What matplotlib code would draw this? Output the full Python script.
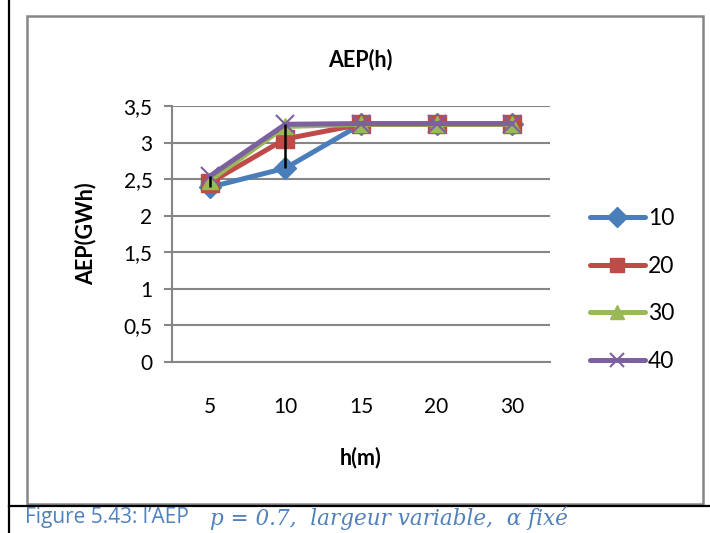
import matplotlib
matplotlib.use("Agg")
import matplotlib.pyplot as plt
from matplotlib.lines import Line2D
from matplotlib.patches import Rectangle
import numpy as np

categories = ["5", "10", "15", "20", "30"]
series_names = ["10", "20", "30", "40"]
aep_10 = [2.39, 2.65, 3.25, 3.25, 3.25]
aep_20 = [2.45, 3.05, 3.25, 3.25, 3.25]
aep_30 = [2.48, 3.22, 3.25, 3.25, 3.25]
aep_40 = [2.54, 3.25, 3.26, 3.26, 3.26]
y_ticks = [0, 0.5, 1, 1.5, 2, 2.5, 3, 3.5]
y_tick_labels = ["0", "0,5", "1", "1,5", "2", "2,5", "3", "3,5"]

colors = ["#4A7EBB", "#BE4B48", "#98B954", "#7D60A0"]
markers = ["D", "s", "^", "x"]
msizes = [11, 13, 12, 13]

plt.rcParams["font.family"] = ["Lato", "DejaVu Sans"]

fig = plt.figure(figsize=(7.10, 5.33), dpi=100)

# page rules and chart frame
fig.add_artist(Line2D([9 / 710, 9 / 710], [0, 1], color="black", lw=1.6,
                      transform=fig.transFigure))
fig.add_artist(Line2D([9 / 710, 1], [1 - 506 / 533, 1 - 506 / 533], color="black",
                      lw=1.6, transform=fig.transFigure))
fig.add_artist(Rectangle((27 / 710, 1 - 504 / 533), (703 - 27) / 710, (504 - 16) / 533,
                         fill=False, edgecolor="#868686", lw=1.8,
                         transform=fig.transFigure))

ax = fig.add_axes([172 / 710, 1 - 362 / 533, (550 - 172) / 710, (362 - 106) / 533])
x = np.arange(len(categories))
all_series = [aep_10, aep_20, aep_30, aep_40]
for vals, name, c, m, ms in zip(all_series, series_names, colors, markers, msizes):
    kw = dict(markeredgewidth=1.5) if m == "x" else dict(markeredgecolor=c)
    ax.plot(x, vals, color=c, lw=3.6, marker=m, markersize=ms, label=name,
            markerfacecolor=c, solid_capstyle="round", clip_on=False, **kw)

# high-low lines across series
arr = np.array(all_series)
ax.vlines(x, arr.min(axis=0), arr.max(axis=0), color="black", lw=1.8, zorder=10)

ax.set_xlim(-0.5, len(categories) - 0.5)
ax.set_ylim(0, 3.5)
ax.set_xticks(x)
ax.set_xticklabels(categories, fontsize=15)
ax.set_yticks(y_ticks)
ax.set_yticklabels(y_tick_labels, fontsize=15)
ax.tick_params(axis="x", length=0, pad=25)
ax.tick_params(axis="y", length=6, width=1.5, color="#868686", pad=8)
ax.grid(axis="y", color="#868686", lw=1.5)
ax.set_axisbelow(True)
for s in ["top", "right"]:
    ax.spines[s].set_visible(False)
for s in ["left", "bottom"]:
    ax.spines[s].set_color("#868686")
    ax.spines[s].set_linewidth(1.5)

fig.text(360 / 710, 1 - 60 / 533, "AEP(h)", ha="center", va="center",
         fontsize=15.5, fontweight="bold")
fig.text(86 / 710, 1 - 234 / 533, "AEP(GWh)", ha="center", va="center",
         rotation=90, fontsize=15.5, fontweight="bold")
fig.text(361 / 710, 1 - 458 / 533, "h(m)", ha="center", va="center",
         fontsize=15.5, fontweight="bold")

leg_handles = []
for name, c, m in zip(series_names, colors, markers):
    kw = dict(markeredgewidth=1.5) if m == "x" else dict(markeredgecolor=c)
    leg_handles.append(Line2D([], [], color=c, lw=3.6, marker=m, markersize=10.5,
                              markerfacecolor=c, solid_capstyle="round", label=name, **kw))
fig.legend(handles=leg_handles, loc="center left", bbox_to_anchor=(569 / 710, 1 - 290 / 533),
           frameon=False, fontsize=16.5, handlelength=2.4, handletextpad=0.15,
           labelspacing=1.15)

cap_color = "#4F81BD"
fig.text(25 / 710, 1 - 518 / 533, "Figure 5.43: l\u2019AEP", ha="left", va="center",
         fontsize=15, color=cap_color, family=["Open Sans", "DejaVu Sans"])
fig.text(210 / 710, 1 - 518 / 533, "p = 0.7,  largeur variable,  \u03b1 fix\u00e9",
         ha="left", va="center", fontsize=15.5, color=cap_color,
         family=["DejaVu Serif"], style="italic")

fig.savefig("out.png", dpi=100)
